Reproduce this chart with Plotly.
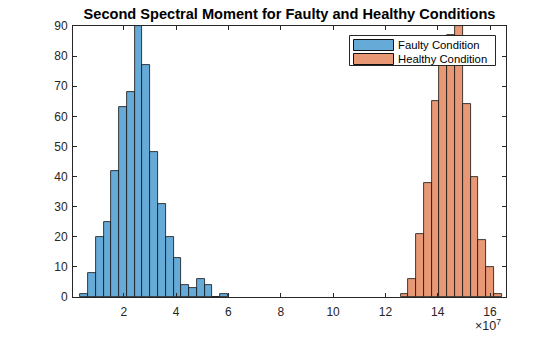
import plotly.graph_objects as go

# ---- data ----
faulty_counts = [1, 8, 20, 25, 42, 63, 68, 90, 77, 48, 31, 20, 13, 4, 3, 6, 4, 0, 1]
faulty_start = 0.344e7
healthy_counts = [1, 6, 21, 38, 65, 79, 87, 90, 64, 40, 19, 10, 1]
healthy_start = 12.585e7
bin_width = 0.2965e7
x_tick_vals = [2e7, 4e7, 6e7, 8e7, 10e7, 12e7, 14e7, 16e7]
x_tick_text = ["2", "4", "6", "8", "10", "12", "14", "16"]
y_tick_vals = [0, 10, 20, 30, 40, 50, 60, 70, 80, 90]
series_names = ["Faulty Condition", "Healthy Condition"]
title_text = "Second Spectral Moment for Faulty and Healthy Conditions"

BLUE = "#66AAD7"
ORANGE = "#E89875"
AX = "#262626"
FONT = "Liberation Sans, Arial, sans-serif"


def centers(start, n):
    return [start + (i + 0.5) * bin_width for i in range(n)]


fig = go.Figure()
fig.add_trace(go.Bar(
    x=centers(faulty_start, len(faulty_counts)), y=faulty_counts, width=bin_width,
    marker=dict(color=BLUE, line=dict(color="#111111", width=0.8)),
    name=series_names[0], showlegend=False))
fig.add_trace(go.Bar(
    x=centers(healthy_start, len(healthy_counts)), y=healthy_counts, width=bin_width,
    marker=dict(color=ORANGE, line=dict(color="#111111", width=0.8)),
    name=series_names[1], showlegend=False))

# plot area in pixels: left 73, right 506, top 26, bottom 297
L, R, T, B = 73.0, 506.0, 26.0, 297.0


def px(xp):
    return (xp - L) / (R - L)


def py(yp):
    return (B - yp) / (B - T)


shapes = []
annotations = []
# custom MATLAB-style legend
shapes.append(dict(type="rect", xref="paper", yref="paper",
                   x0=px(349.5), x1=px(495.5), y0=py(65.5), y1=py(35.5),
                   fillcolor="white", line=dict(color=AX, width=1), layer="above"))
for i, (name, col) in enumerate(zip(series_names, [BLUE, ORANGE])):
    y_top = 39.5 + i * 14
    shapes.append(dict(type="rect", xref="paper", yref="paper",
                       x0=px(353.5), x1=px(393.5), y0=py(y_top + 11), y1=py(y_top),
                       fillcolor=col, line=dict(color="#111111", width=1), layer="above"))
    annotations.append(dict(text=name, xref="paper", yref="paper",
                            x=px(396.0), y=py(y_top + 5.5), xanchor="left", yanchor="middle",
                            showarrow=False, font=dict(family=FONT, size=11.3, color="#000000")))

annotations.append(dict(text="×10<sup>7</sup>", xref="paper", yref="paper",
                        x=px(503), y=py(325), xanchor="right", yanchor="middle",
                        showarrow=False, font=dict(family=FONT, size=12.5, color=AX)))

fig.update_layout(
    width=560, height=337,
    margin=dict(l=73, r=54, t=26, b=40),
    paper_bgcolor="white", plot_bgcolor="white",
    barmode="overlay", bargap=0,
    title=dict(text="<b>" + title_text + "</b>", x=0.5, xref="paper",
               y=1 - 14 / 337, yanchor="middle",
               font=dict(family=FONT, size=14.6, color="#000000")),
    font=dict(family=FONT, size=12, color=AX),
    shapes=shapes, annotations=annotations,
)
fig.update_xaxes(range=[0.06e7, 16.61e7], tickvals=x_tick_vals, ticktext=x_tick_text,
                 showgrid=False, zeroline=False, showline=True, linecolor=AX, linewidth=1,
                 mirror="ticks", ticks="inside", ticklen=4, tickcolor=AX,
                 ticklabelstandoff=4,
                 tickfont=dict(family=FONT, size=12, color=AX))
fig.update_yaxes(range=[0, 90], tickvals=y_tick_vals,
                 showgrid=False, zeroline=False, showline=True, linecolor=AX, linewidth=1,
                 mirror="ticks", ticks="inside", ticklen=4, tickcolor=AX,
                 ticklabelstandoff=2,
                 tickfont=dict(family=FONT, size=12, color=AX))

fig.write_html("out.html")
